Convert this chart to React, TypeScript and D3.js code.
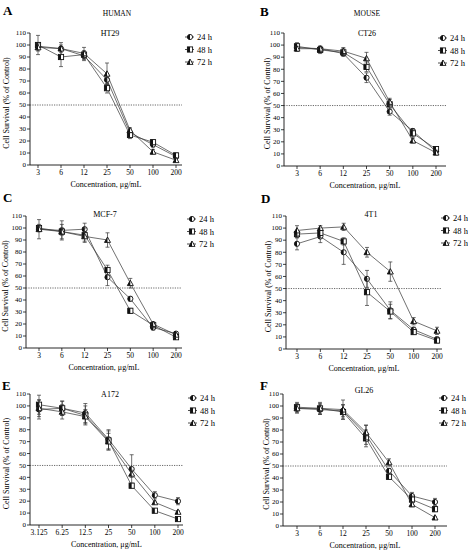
import React from "react";
import * as d3 from "d3";

const CATS = ["3", "6", "12", "25", "50", "100", "200"];
const CATS_E = ["3.125", "6.25", "12.5", "25", "50", "100", "200"];
const SERIES = ["24 h", "48 h", "72 h"];
const Y_TICKS = [0, 10, 20, 30, 40, 50, 60, 70, 80, 90, 100, 110];

// HT29
const HT29_24 = [99, 97, 91, 71, 27, 17, 7];
const HT29_48 = [100, 90, 92, 64, 25, 19, 8];
const HT29_72 = [98, 97, 93, 76, 29, 11, 4];
const HT29_E24 = [3, 3, 4, 4, 3, 2, 2];
const HT29_E48 = [8, 8, 3, 4, 3, 2, 2];
const HT29_E72 = [3, 5, 5, 9, 2, 2, 1];

// CT26
const CT26_24 = [98, 97, 93, 73, 45, 29, 12];
const CT26_48 = [99, 96, 94, 82, 51, 27, 14];
const CT26_72 = [97, 97, 95, 89, 53, 21, 11];
const CT26_E24 = [3, 2, 2, 4, 3, 2, 2];
const CT26_E48 = [3, 3, 3, 4, 4, 3, 2];
const CT26_E72 = [2, 2, 3, 5, 3, 2, 2];

// MCF-7
const MCF7_24 = [99, 98, 99, 59, 41, 17, 12];
const MCF7_48 = [100, 97, 94, 65, 31, 19, 9];
const MCF7_72 = [99, 97, 93, 90, 54, 20, 11];
const MCF7_E24 = [8, 8, 5, 7, 2, 2, 1];
const MCF7_E48 = [3, 6, 6, 4, 2, 2, 1];
const MCF7_E72 = [2, 3, 4, 6, 4, 2, 1];

// 4T1
const T41_24 = [87, 93, 80, 58, 32, 16, 8];
const T41_48 = [95, 96, 89, 47, 31, 14, 7];
const T41_72 = [98, 100, 101, 80, 64, 23, 15];
const T41_E24 = [5, 5, 10, 7, 7, 2, 2];
const T41_E48 = [3, 4, 3, 11, 6, 2, 2];
const T41_E72 = [4, 2, 3, 4, 8, 3, 3];

// A172
const A172_24 = [97, 98, 94, 72, 47, 25, 20];
const A172_48 = [101, 98, 92, 71, 33, 12, 5];
const A172_72 = [98, 95, 91, 70, 43, 19, 11];
const A172_E24 = [8, 6, 8, 8, 12, 3, 3];
const A172_E48 = [8, 6, 8, 8, 2, 1, 1];
const A172_E72 = [7, 6, 6, 7, 3, 1, 1];

// GL26
const GL26_24 = [98, 97, 96, 76, 46, 25, 20];
const GL26_48 = [99, 98, 95, 73, 41, 22, 14];
const GL26_72 = [98, 98, 97, 78, 53, 18, 7];
const GL26_E24 = [4, 4, 5, 8, 2, 3, 3];
const GL26_E48 = [4, 5, 6, 7, 2, 3, 2];
const GL26_E72 = [3, 4, 8, 6, 3, 2, 1];

const PANELS = [
  { letter: "A", group: "HUMAN", name: "HT29", cats: CATS, vals: [HT29_24, HT29_48, HT29_72], errs: [HT29_E24, HT29_E48, HT29_E72],
    L: { x0: 30, x1: 182, yT: 33, yB: 165, c0: 38, c1: 176, lx: 3, ly: 15, gx: 117, gy: 16, tx: 110, ty: 36, legX: 185, legY: 37, lblX: 6 } },
  { letter: "B", group: "MOUSE", name: "CT26", cats: CATS, vals: [CT26_24, CT26_48, CT26_72], errs: [CT26_E24, CT26_E48, CT26_E72],
    L: { x0: 284, x1: 446, yT: 33, yB: 166, c0: 297, c1: 436, lx: 260, ly: 16, gx: 367, gy: 16, tx: 367, ty: 36, legX: 438, legY: 38, lblX: 267 } },
  { letter: "C", group: "", name: "MCF-7", cats: CATS, vals: [MCF7_24, MCF7_48, MCF7_72], errs: [MCF7_E24, MCF7_E48, MCF7_E72],
    L: { x0: 26, x1: 182, yT: 216, yB: 348, c0: 39, c1: 176, lx: 3, ly: 202, gx: 0, gy: 0, tx: 105, ty: 217, legX: 187, legY: 219, lblX: 5 } },
  { letter: "D", group: "", name: "4T1", cats: CATS, vals: [T41_24, T41_48, T41_72], errs: [T41_E24, T41_E48, T41_E72],
    L: { x0: 286, x1: 442, yT: 216, yB: 349, c0: 297, c1: 437, lx: 261, ly: 203, gx: 0, gy: 0, tx: 371, ty: 217, legX: 441, legY: 218, lblX: 268 } },
  { letter: "E", group: "", name: "A172", cats: CATS_E, vals: [A172_24, A172_48, A172_72], errs: [A172_E24, A172_E48, A172_E72],
    L: { x0: 30, x1: 183, yT: 394, yB: 525, c0: 39, c1: 178, lx: 2, ly: 390, gx: 0, gy: 0, tx: 110, ty: 397, legX: 188, legY: 398, lblX: 6 } },
  { letter: "F", group: "", name: "GL26", cats: CATS, vals: [GL26_24, GL26_48, GL26_72], errs: [GL26_E24, GL26_E48, GL26_E72],
    L: { x0: 283, x1: 447, yT: 394, yB: 526, c0: 297, c1: 435, lx: 260, ly: 390, gx: 0, gy: 0, tx: 364, ty: 393, legX: 439, legY: 398, lblX: 266 } },
];

const FONT = "'Liberation Serif', 'DejaVu Serif', serif";
const LINE = "#333";

function Marker({ kind, x, y }: { kind: number; x: number; y: number }) {
  const r = 2.6;
  if (kind === 0) {
    return (
      <g transform={`translate(${x},${y})`}>
        <circle r={r} fill="#fff" stroke="#111" strokeWidth={0.9} />
        <path d={`M0,${-r} A${r},${r} 0 0 0 0,${r} Z`} fill="#111" />
      </g>
    );
  }
  if (kind === 1) {
    return (
      <g transform={`translate(${x},${y})`}>
        <rect x={-r} y={-r} width={2 * r} height={2 * r} fill="#fff" stroke="#111" strokeWidth={0.9} />
        <rect x={-r} y={-r} width={r} height={2 * r} fill="#111" />
      </g>
    );
  }
  const h = 3;
  return (
    <g transform={`translate(${x},${y})`}>
      <path d={`M0,${-h} L${h},${h * 0.8} L${-h},${h * 0.8} Z`} fill="#fff" stroke="#111" strokeWidth={0.9} />
      <path d={`M0,${-h} L0,${h * 0.8} L${-h},${h * 0.8} Z`} fill="#111" />
    </g>
  );
}

function Panel({ p }: { p: (typeof PANELS)[number] }) {
  const L = p.L;
  const x = d3.scalePoint<string>().domain(p.cats).range([L.c0, L.c1]);
  const y = d3.scaleLinear().domain([0, 110]).range([L.yB, L.yT]);
  const line = d3
    .line<number>()
    .x((_, i) => x(p.cats[i]) as number)
    .y((d) => y(d));
  return (
    <g>
      <text x={L.lx} y={L.ly} fontFamily={FONT} fontWeight="bold" fontSize={13}>{p.letter}</text>
      {p.group && (
        <text x={L.gx} y={L.gy} fontFamily={FONT} fontSize={7.5} textAnchor="middle">{p.group}</text>
      )}
      <text x={L.tx} y={L.ty} fontFamily={FONT} fontSize={8} textAnchor="middle">{p.name}</text>
      {/* y axis */}
      <line x1={L.x0} x2={L.x0} y1={y(110)} y2={y(0)} stroke="#111" strokeWidth={0.9} />
      {Y_TICKS.map((t) => (
        <g key={t}>
          <line x1={L.x0 - 3} x2={L.x0} y1={y(t)} y2={y(t)} stroke="#111" strokeWidth={0.8} />
          <text x={L.x0 - 4} y={y(t) + 2.3} fontFamily={FONT} fontSize={7} textAnchor="end">{t}</text>
        </g>
      ))}
      {/* x axis */}
      <line x1={L.x0} x2={L.x1} y1={L.yB} y2={L.yB} stroke="#111" strokeWidth={0.9} />
      {p.cats.map((c) => (
        <g key={c}>
          <line x1={x(c)} x2={x(c)} y1={L.yB} y2={L.yB + 3} stroke="#111" strokeWidth={0.8} />
          <text x={x(c)} y={L.yB + 10} fontFamily={FONT} fontSize={7.5} textAnchor="middle">{c}</text>
        </g>
      ))}
      <text x={(L.x0 + L.x1) / 2} y={L.yB + 22} fontFamily={FONT} fontSize={8} textAnchor="middle">
        Concentration, μg/mL
      </text>
      <text
        transform={`translate(${L.lblX},${(L.yT + L.yB) / 2 + 4}) rotate(-90)`}
        fontFamily={FONT}
        fontSize={8}
        textAnchor="middle"
        dy={3}
      >
        Cell Survival (% of Control)
      </text>
      {/* 50% line */}
      <line x1={L.x0} x2={L.x1} y1={y(50)} y2={y(50)} stroke="#444" strokeWidth={0.8} strokeDasharray="1.2,1.2" />
      {/* series */}
      {p.vals.map((vals, si) => (
        <g key={si}>
          <path d={line(vals) || ""} fill="none" stroke={LINE} strokeWidth={0.7} />
          {vals.map((v, i) => {
            const cx = x(p.cats[i]) as number;
            const e = p.errs[si][i];
            return (
              <g key={i}>
                <line x1={cx} x2={cx} y1={y(v - e)} y2={y(v + e)} stroke="#333" strokeWidth={0.7} />
                <line x1={cx - 2} x2={cx + 2} y1={y(v + e)} y2={y(v + e)} stroke="#333" strokeWidth={0.7} />
                <line x1={cx - 2} x2={cx + 2} y1={y(v - e)} y2={y(v - e)} stroke="#333" strokeWidth={0.7} />
              </g>
            );
          })}
          {vals.map((v, i) => (
            <Marker key={"m" + i} kind={si} x={x(p.cats[i]) as number} y={y(v)} />
          ))}
        </g>
      ))}
      {/* legend */}
      {SERIES.map((s, si) => (
        <g key={s} transform={`translate(${L.legX},${L.legY + si * 12.5})`}>
          <line x1={0} x2={9} y1={0} y2={0} stroke="#222" strokeWidth={0.8} />
          <Marker kind={si} x={5} y={0} />
          <text x={12} y={3} fontFamily={FONT} fontSize={8.5}>{s}</text>
        </g>
      ))}
    </g>
  );
}

export default function App() {
  return (
    <svg
      width={468}
      height={555}
      style={{ position: "absolute", left: 0, top: 0, background: "#fff" }}
    >
      <rect width={468} height={555} fill="#fff" />
      {PANELS.map((p) => (
        <Panel key={p.letter} p={p} />
      ))}
    </svg>
  );
}
